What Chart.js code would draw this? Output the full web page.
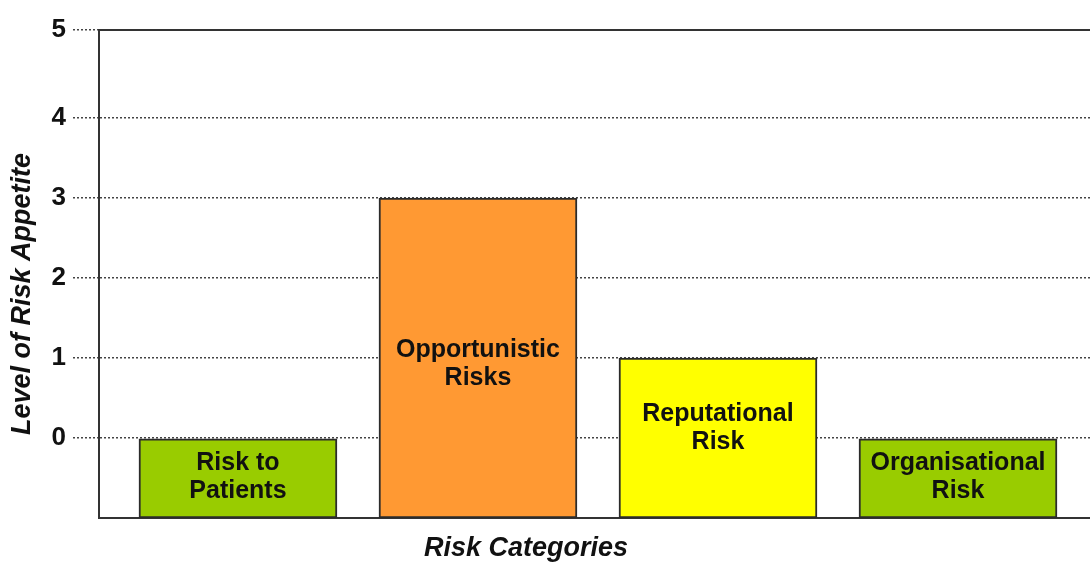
<!DOCTYPE html>
<html>
<head>
<meta charset="utf-8">
<script src="https://cdn.jsdelivr.net/npm/chart.js@4"></script>
<style>
  html, body { margin: 0; padding: 0; background: #fff; }
  #wrap { width: 1090px; height: 565px; }
</style>
</head>
<body>
<div id="wrap"><canvas id="riskChart" width="1090" height="565"></canvas></div>
<script>
// ===============================
// Data
// ===============================
const categories = [
  ["Risk to", "Patients"],
  ["Opportunistic", "Risks"],
  ["Reputational", "Risk"],
  ["Organisational", "Risk"]
];
const appetite = [0, 3, 1, 0];
const barBase = -1;
const yTickValues = [0, 1, 2, 3, 4, 5];
const xTitle = "Risk Categories";
const yTitle = "Level of Risk Appetite";

// ===============================
// Styling
// ===============================
const barColors = ["#99CC00", "#FF9933", "#FFFF00", "#99CC00"];
const labelShift = [-1, 6, -10, -1]; // px nudge of the text inside each bar
const FONT = "'Liberation Sans', Arial, sans-serif";
const frameColor = "#333";

// bar text, axis titles and top frame line
const decorations = {
  id: "decorations",
  afterDatasetsDraw(chart) {
    const { ctx, chartArea } = chart;
    const meta = chart.getDatasetMeta(0);

    ctx.save();
    ctx.strokeStyle = frameColor;
    ctx.lineWidth = 2;
    ctx.beginPath();
    ctx.moveTo(chartArea.left, chartArea.top);
    ctx.lineTo(chartArea.right, chartArea.top);
    ctx.stroke();

    ctx.fillStyle = "#111";
    ctx.textAlign = "center";
    ctx.textBaseline = "middle";
    ctx.font = `bold 25px ${FONT}`;
    meta.data.forEach((bar, i) => {
      const lines = categories[i];
      const cy = (bar.y + bar.base) / 2 + labelShift[i];
      const lh = 28;
      lines.forEach((t, k) => {
        ctx.fillText(t, bar.x, cy + (k - (lines.length - 1) / 2) * lh);
      });
    });

    ctx.font = `italic bold 27px ${FONT}`;
    ctx.fillText(xTitle, 526, 549);

    ctx.translate(23, 294);
    ctx.rotate(-Math.PI / 2);
    ctx.fillText(yTitle, 0, 0);
    ctx.restore();
  }
};

new Chart(document.getElementById("riskChart"), {
  type: "bar",
  data: {
    datasets: [{
      data: appetite.map((v, i) => ({ x: i, y: [barBase, v] })),
      backgroundColor: barColors,
      borderColor: "#2b2b2b",
      borderWidth: 2,
      borderSkipped: false,
      barThickness: 198
    }]
  },
  options: {
    responsive: false,
    animation: false,
    layout: { padding: { top: 30, right: 0, left: 0, bottom: 0 } },
    plugins: {
      legend: { display: false },
      tooltip: { enabled: false }
    },
    scales: {
      x: {
        type: "linear",
        offset: false,
        min: -0.579,
        max: 3.55,
        ticks: { display: false },
        grid: { display: false },
        border: { display: true, color: frameColor, width: 2 },
        afterFit: s => { s.height = 47; }
      },
      y: {
        min: barBase,
        max: 5.1,
        afterBuildTicks: s => {
          // the top tick sits on the frame line
          s.ticks = yTickValues.map((v, i) =>
            ({ value: i === yTickValues.length - 1 ? s.max : v }));
        },
        ticks: {
          color: "#111",
          padding: 7,
          font: { family: FONT, size: 26, weight: "bold" },
          callback: v => String(Math.floor(v))
        },
        grid: {
          color: "#444",
          lineWidth: 1.5,
          tickLength: 26,
          drawTicks: true,
          tickBorderDash: [2, 2]
        },
        border: { display: true, color: frameColor, width: 2, dash: [2, 2] },
        afterFit: s => { s.width = 99; }
      }
    }
  },
  plugins: [decorations]
});
</script>
</body>
</html>
